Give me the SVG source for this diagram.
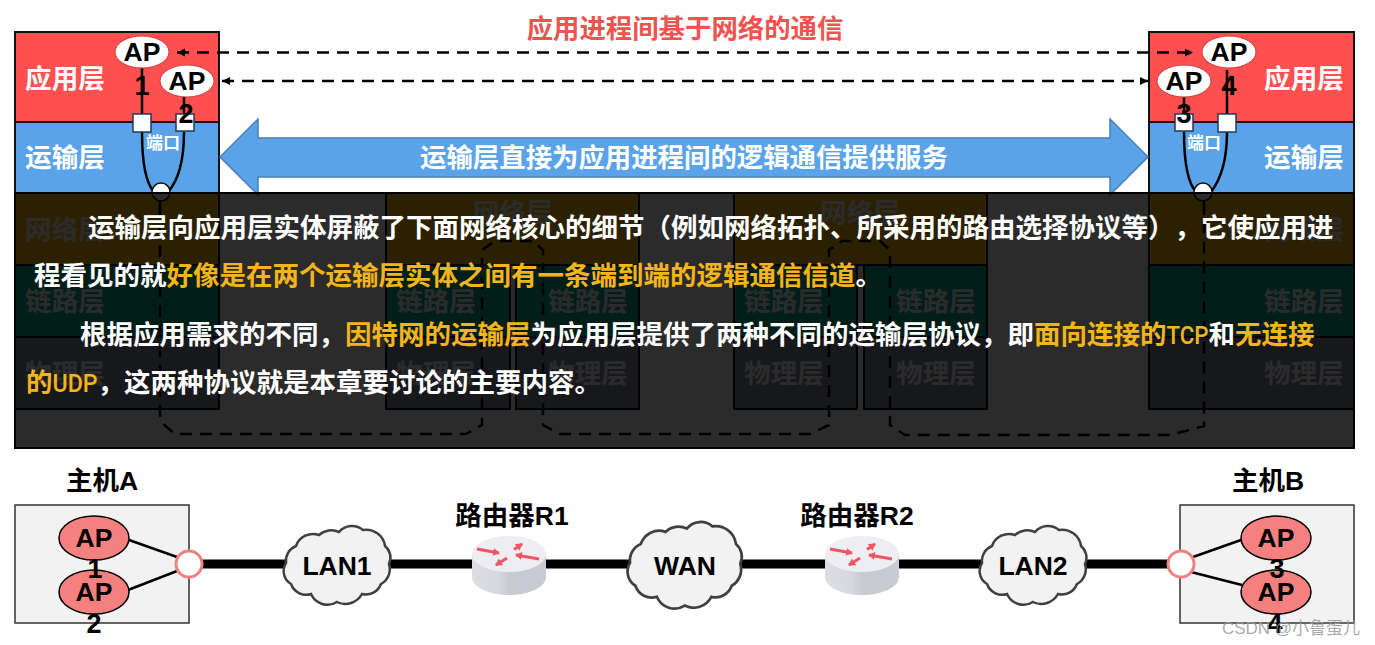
<svg xmlns="http://www.w3.org/2000/svg" width="1375" height="645" viewBox="0 0 1375 645">
<style>
text{font-family:"Liberation Sans","Noto Sans CJK SC",sans-serif;font-weight:700;text-anchor:middle;text-spacing-trim:space-all}
.l{font-size:26.600px;fill:#fff}
.m{font-size:26.400px;fill:#fff}
.k{font-size:26.500px;fill:#000}
.n{font-size:27px;fill:#000}
.p{font-size:17px;fill:#fff}
.o{font-family:"Noto Sans CJK SC",sans-serif;font-size:26.500px;fill:#fff;text-anchor:start}
.y{fill:#f3b41c}
.u{font-family:"Roboto",sans-serif;font-weight:500}
.ly{stroke:#111;stroke-width:2}
.app{fill:#fe5050}.tr{fill:#5aa3e8}.net{fill:#ffc000}.lnk{fill:#10b08d}.phy{fill:#878da5}
.e1{fill:#fff;stroke:#c9403f;stroke-width:1}
.e2{fill:#f48080;stroke:#000;stroke-width:1.5}
.sq{fill:#fff;stroke:#1f3a5a;stroke-width:1.5}
.d{fill:none;stroke:#000;stroke-width:2.500;stroke-dasharray:12 8}
.c{fill:none;stroke:#000;stroke-width:2.500}
.t{fill:none;stroke:#000;stroke-width:9}
.h{fill:#f2f2f2;stroke:#333;stroke-width:1.500}
.cl{fill:#f2f2f2;stroke:#404040;stroke-width:2.500}
.pt{fill:#fff;stroke:#f08080;stroke-width:3}
.ra{fill:none;stroke:#ee5566;stroke-width:3.200;marker-end:url(#ra)}
</style>
<defs>
<marker id="ah" markerWidth="10" markerHeight="10" refX="8" refY="4" orient="auto-start-reverse" markerUnits="userSpaceOnUse"><path d="M0,0L8,4L0,8Z" fill="#000"/></marker>
<marker id="ra" markerWidth="9" markerHeight="9" refX="6" refY="4" orient="auto" markerUnits="userSpaceOnUse"><path d="M0,0L7,4L0,8Z" fill="#ee5566"/></marker>
<linearGradient id="rb" x1="0" x2="1" y1="0" y2="0"><stop offset="0" stop-color="#dcdde2"/><stop offset=".35" stop-color="#d8d9df"/><stop offset=".5" stop-color="#c8cad2"/><stop offset="1" stop-color="#c8cbd3"/></linearGradient>
<path id="cloud" class="cl" d="M1,37A16,16 0 0 1 11,20A18,18 0 0 1 34,9A18,18 0 0 1 54,6A17,17 0 0 1 78,4A19,19 0 0 1 100,20A15,15 0 0 1 104,38A17,17 0 0 1 96,58A16,16 0 0 1 77,68A19,19 0 0 1 52,76A18,18 0 0 1 26,68A16,16 0 0 1 6,58A15,15 0 0 1 1,37Z"/>
<g id="router">
<path d="M0,18V41A37,18 0 0 0 74,41V18Z" fill="url(#rb)"/>
<ellipse cx="37" cy="18" rx="37" ry="18" fill="#eeeef2"/>
<path class="ra" d="M5,13L27,17"/><path class="ra" d="M42,13.500L50,8"/><path class="ra" d="M67,23L44,19"/><path class="ra" d="M35,22L24,29"/>
</g>
</defs>

<g id="stack-a">
<rect class="ly app" x="15" y="32" width="204" height="90"/><rect class="ly tr" x="15" y="122" width="204" height="71"/>
<rect class="ly net" x="15" y="193" width="204" height="72"/><rect class="ly lnk" x="15" y="265" width="204" height="72"/><rect class="ly phy" x="15" y="337" width="204" height="72"/>
<text class="l" x="65" y="88">应用层</text><text class="l" x="65" y="167">运输层</text><text class="l" x="65" y="239">网络层</text><text class="l" x="65" y="311">链路层</text><text class="l" x="65" y="383">物理层</text>
</g>
<g id="stack-r1">
<rect class="ly net" x="386" y="193" width="253" height="72"/><rect class="ly lnk" x="386" y="265" width="124" height="72"/><rect class="ly phy" x="386" y="337" width="124" height="72"/><rect class="ly lnk" x="516" y="265" width="123" height="72"/><rect class="ly phy" x="516" y="337" width="123" height="72"/>
<text class="l" x="513" y="222">网络层</text><text class="l" x="436" y="311">链路层</text><text class="l" x="436" y="383">物理层</text><text class="l" x="588" y="311">链路层</text><text class="l" x="588" y="383">物理层</text>
</g>
<g id="stack-r2">
<rect class="ly net" x="734" y="193" width="253" height="72"/><rect class="ly lnk" x="734" y="265" width="123" height="72"/><rect class="ly phy" x="734" y="337" width="123" height="72"/><rect class="ly lnk" x="864" y="265" width="123" height="72"/><rect class="ly phy" x="864" y="337" width="123" height="72"/>
<text class="l" x="860" y="222">网络层</text><text class="l" x="784" y="311">链路层</text><text class="l" x="784" y="383">物理层</text><text class="l" x="936" y="311">链路层</text><text class="l" x="936" y="383">物理层</text>
</g>
<g id="stack-b">
<rect class="ly app" x="1149" y="32" width="205" height="90"/><rect class="ly tr" x="1149" y="122" width="205" height="71"/>
<rect class="ly net" x="1149" y="193" width="205" height="72"/><rect class="ly lnk" x="1149" y="265" width="205" height="72"/><rect class="ly phy" x="1149" y="337" width="205" height="72"/>
<text class="l" x="1304" y="88">应用层</text><text class="l" x="1304" y="167">运输层</text><text class="l" x="1304" y="239">网络层</text><text class="l" x="1304" y="311">链路层</text><text class="l" x="1304" y="383">物理层</text>
</g>

<g id="connectors">
<path class="d" d="M160,205V415L163,424L175,434H466L482,425V250L495,241H533L543,250V425L560,434H810L829,425V250L842,241H880L890,250V425L905,435H1170L1204,426V205"/>
<path class="c" d="M142,68V114M184,97V114M142,132C142,165 146,183 154,192M184,132C184,165 176,183 168,192"/>
<path class="c" d="M1184,97V114M1227,70V114M1184,132C1184,165 1188,183 1196,192M1227,132C1227,165 1218,183 1211,192"/>
<path class="c" d="M160,200V215M1204,200V215"/>
<path class="d" d="M177,52.500H1193" marker-start="url(#ah)" marker-end="url(#ah)"/>
<path class="d" d="M222,81H1148" marker-start="url(#ah)" marker-end="url(#ah)"/>
</g>

<g id="service-arrow">
<path d="M220,157L258,119V138H1110V119L1148,157L1110,195V177H258V195Z" fill="#5aa3e8" stroke="#4a7fb5" stroke-width="1.500"/>
<text class="m" x="684" y="167">运输层直接为应用进程间的逻辑通信提供服务</text>
</g>
<g id="title"><text x="685" y="38" font-size="26.400" fill="#ef5350">应用进程间基于网络的通信</text></g>

<g id="ap1"><rect class="sq" x="133" y="114" width="18" height="18"/><ellipse class="e1" cx="142" cy="52" rx="27" ry="16"/><text class="k" x="142" y="61">AP</text><text class="n" x="142" y="95">1</text></g>
<g id="ap2"><rect class="sq" x="176" y="114" width="18" height="17"/><ellipse class="e1" cx="187" cy="81" rx="27" ry="16"/><text class="k" x="187" y="90">AP</text><text class="n" x="186" y="123">2</text></g>
<g id="ap3"><rect class="sq" x="1175" y="114" width="18" height="17"/><ellipse class="e1" cx="1184" cy="81" rx="27" ry="16"/><text class="k" x="1184" y="90">AP</text><text class="n" x="1184" y="123">3</text></g>
<g id="ap4"><rect class="sq" x="1218" y="114" width="18" height="18"/><ellipse class="e1" cx="1229" cy="52" rx="27" ry="16"/><text class="k" x="1229" y="61">AP</text><text class="n" x="1229" y="95">4</text></g>
<g id="port-a"><text class="p" x="163" y="149">端口</text><circle cx="161" cy="192" r="9" fill="#fff" stroke="#111" stroke-width="1.500"/></g>
<g id="port-b"><text class="p" x="1204" y="149">端口</text><circle cx="1203" cy="192" r="9" fill="#fff" stroke="#111" stroke-width="1.500"/></g>

<g id="overlay">
<rect x="15" y="193" width="1339" height="255" fill="#000" fill-opacity=".83" stroke="#000" stroke-width="2"/>
<text class="o" x="88" y="237">运输层向应用层实体屏蔽了下面网络核心的细节（例如网络拓扑、所采用的路由选择协议等），它使应用进</text>
<text class="o" x="34" y="285">程看见的就<tspan class="y">好像是在两个运输层实体之间有一条端到端的逻辑通信信道</tspan>。</text>
<text class="o" x="80" y="344">根据应用需求的不同，<tspan class="y">因特网的运输层</tspan>为应用层提供了两种不同的运输层协议，即<tspan class="y">面向连接的</tspan><tspan class="y u" textLength="42" lengthAdjust="spacingAndGlyphs">TCP</tspan>和<tspan class="y">无连接</tspan></text>
<text class="o" x="26" y="392"><tspan class="y">的</tspan><tspan class="y u" textLength="45" lengthAdjust="spacingAndGlyphs">UDP</tspan>，这两种协议就是本章要讨论的主要内容。</text>
</g>

<g id="links"><path class="t" d="M202,564H1168"/></g>

<g id="host-a">
<rect class="h" x="15" y="505" width="174" height="118"/>
<path class="c" d="M129,540L177,557M128,590L177,571"/>
<ellipse class="e2" cx="94" cy="538" rx="35" ry="22"/><text class="k" x="94" y="547">AP</text>
<ellipse class="e2" cx="94" cy="592" rx="35" ry="22"/><text class="k" x="94" y="601">AP</text>
<text class="n" x="95" y="578">1</text><text class="n" x="94" y="633">2</text>
<circle class="pt" cx="189" cy="564" r="13"/>
<text class="k" x="102" y="490">主机A</text>
</g>
<g id="lan1"><use href="#cloud" x="285" y="526"/><text class="k" x="337" y="575">LAN1</text></g>
<g id="r1"><use href="#router" x="472" y="536"/><text class="k" x="512" y="525">路由器R1</text></g>
<g id="wan"><use href="#cloud" transform="translate(629,522) scale(1.070,1.100)"/><text class="k" x="685" y="575">WAN</text></g>
<g id="r2"><use href="#router" x="825" y="536"/><text class="k" x="857" y="525">路由器R2</text></g>
<g id="lan2"><use href="#cloud" x="981" y="526"/><text class="k" x="1033" y="575">LAN2</text></g>
<g id="host-b">
<rect class="h" x="1180" y="505" width="174" height="118"/>
<path class="c" d="M1193,557L1241,540M1191,572L1242,585"/>
<ellipse class="e2" cx="1276" cy="538" rx="35" ry="22"/><text class="k" x="1276" y="547">AP</text>
<ellipse class="e2" cx="1276" cy="592" rx="35" ry="22"/><text class="k" x="1276" y="601">AP</text>
<text class="n" x="1277" y="578">3</text><text class="n" x="1275" y="633">4</text>
<circle class="pt" cx="1181" cy="564" r="13"/>
<text class="k" x="1268" y="490">主机B</text>
</g>
<g id="watermark"><text x="1291" y="634" font-size="17" fill="#999" fill-opacity=".85" style="font-weight:400">CSDN @小鲁蛋儿</text></g>
</svg>
